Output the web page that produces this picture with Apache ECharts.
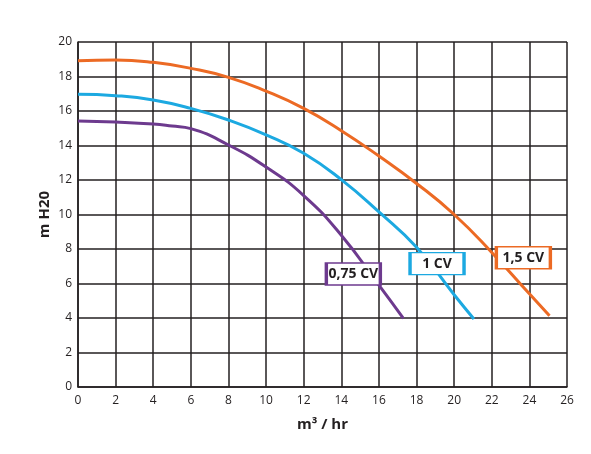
<!DOCTYPE html>
<html>
<head>
<meta charset="utf-8">
<script src="https://cdn.jsdelivr.net/npm/echarts@6/dist/echarts.min.js"></script>
<style>
html,body{margin:0;padding:0;background:#fff;}
#chart{width:591px;height:454px;}
</style>
</head>
<body>
<div id="chart"></div>
<script>
// ---- data ----
var seriesNames = ['0,75 CV', '1 CV', '1,5 CV'];

var flow075 = [0, 2, 4, 5, 6, 8, 10, 12, 14, 16, 17.3];
var head075 = [15.42, 15.36, 15.25, 15.13, 14.98, 14.03, 12.75, 11.1, 8.8, 5.9, 3.98];

var flow1 = [0, 2, 4, 6, 8, 10, 12, 14, 16, 18, 20, 21.05];
var head1 = [16.97, 16.89, 16.64, 16.15, 15.48, 14.62, 13.55, 12.02, 10.15, 8.1, 5.35, 3.94];

var flow15 = [0, 2, 4, 6, 8, 10, 12, 14, 16, 18, 20, 22, 24, 25.07];
var head15 = [18.92, 18.96, 18.82, 18.47, 17.95, 17.15, 16.15, 14.86, 13.39, 11.8, 10.0, 7.8, 5.4, 4.13];

// label anchor points (data units: flow, head)
var labelFlow = [14.64, 19.09, 23.68];
var labelHead = [6.55, 7.15, 7.49];

var xTicks = [0, 2, 4, 6, 8, 10, 12, 14, 16, 18, 20, 22, 24, 26];
var yTicks = [0, 2, 4, 6, 8, 10, 12, 14, 16, 18, 20];

// ---- chart ----
function pairs(xs, ys) { return xs.map(function (x, i) { return [x, ys[i]]; }); }
var colors = ['#6D3A8E', '#1CA9E1', '#EC6A24'];
var flows = [flow075, flow1, flow15];
var heads = [head075, head1, head15];
var ink = '#231F20';
var font = "'Open Sans', 'Noto Sans', sans-serif";

var series = seriesNames.map(function (name, i) {
  return {
    name: name,
    type: 'line',
    smooth: 0.5,
    showSymbol: false,
    symbol: 'none',
    data: pairs(flows[i], heads[i]),
    lineStyle: { color: colors[i], width: 3 },
    itemStyle: { color: colors[i] },
    z: 3,
    markPoint: {
      symbol: 'rect',
      symbolSize: [54, 22],
      silent: true,
      itemStyle: { color: '#fff', borderColor: colors[i], borderWidth: 2.2 },
      label: {
        show: true, position: 'inside', formatter: name,
        color: ink, fontFamily: font, fontWeight: 'bold', fontSize: 14
      },
      data: [{ name: name, coord: [labelFlow[i], labelHead[i]] }]
    }
  };
});

var chart = echarts.init(document.getElementById('chart'), null, { renderer: 'canvas' });
chart.setOption({
  animation: false,
  backgroundColor: '#fff',
  grid: { left: 78, right: 24, top: 42, bottom: 67, containLabel: false },
  xAxis: {
    type: 'value', min: xTicks[0], max: xTicks[xTicks.length - 1], interval: 2,
    name: 'm³ / hr', nameLocation: 'middle', nameGap: 30, nameMoveOverlap: false,
    nameTextStyle: { color: ink, fontFamily: font, fontWeight: 'bold', fontSize: 15 },
    axisLine: { show: true, lineStyle: { color: ink, width: 1.5 } },
    axisTick: { show: false },
    axisLabel: { color: ink, fontFamily: font, fontSize: 12, margin: 8 },
    splitLine: { show: true, lineStyle: { color: ink, width: 1.5 } }
  },
  yAxis: {
    type: 'value', min: yTicks[0], max: yTicks[yTicks.length - 1], interval: 2,
    name: 'm H20', nameLocation: 'middle', nameGap: 26, nameMoveOverlap: false,
    nameTextStyle: { color: ink, fontFamily: font, fontWeight: 'bold', fontSize: 15 },
    axisLine: { show: true, lineStyle: { color: ink, width: 1.5 } },
    axisTick: { show: false },
    axisLabel: { color: ink, fontFamily: font, fontSize: 12, margin: 6 },
    splitLine: { show: true, lineStyle: { color: ink, width: 1.5 } }
  },
  series: series
});
</script>
</body>
</html>
